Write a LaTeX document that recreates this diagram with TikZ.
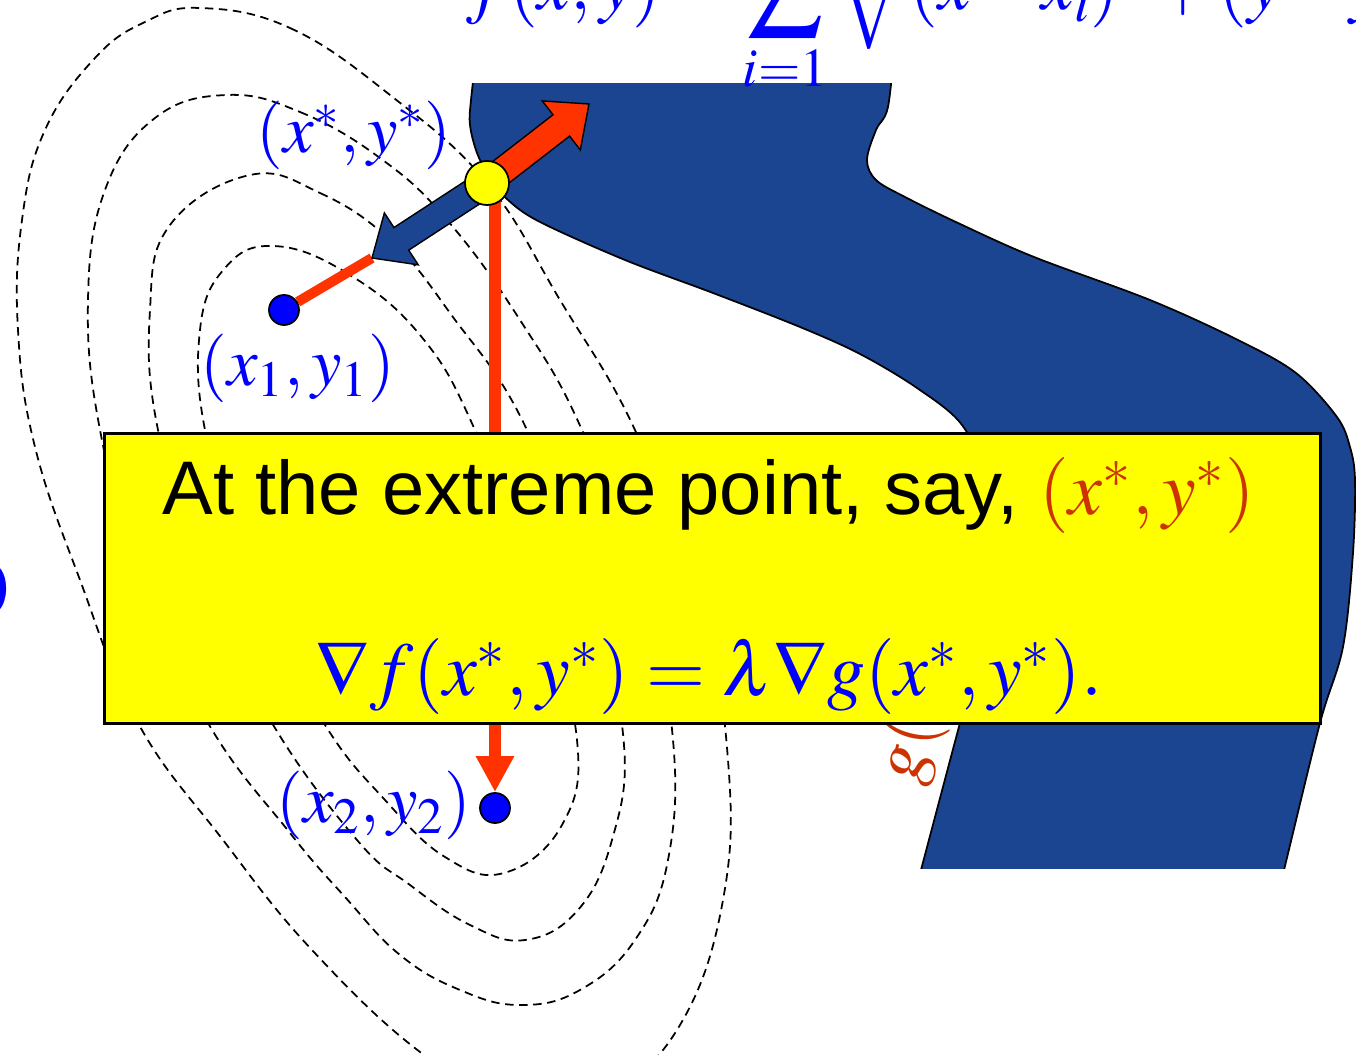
\documentclass[tikz,border=0pt]{standalone}
\usepackage{mathptmx}
\usepackage[no-math]{fontspec}
\setmainfont{Liberation Serif}
\setsansfont{Liberation Sans}
\usepackage{xcolor}
\usepackage{tikz}
\usetikzlibrary{arrows.meta,calc,backgrounds}
\definecolor{bandblue}{HTML}{1B4590}
\definecolor{arrowred}{HTML}{FF3300}
\definecolor{pointred}{HTML}{CC3300}
\definecolor{labelblue}{HTML}{0000FF}
\definecolor{noteyellow}{HTML}{FFFF00}
\tikzset{
  contour/.style={black,line width=0.5pt,dash pattern=on 2.4pt off 1.6pt},
  band/.style={fill=bandblue,draw=black,line width=0.5pt},
  dotyellow/.style={circle,draw=black,fill=noteyellow,line width=0.5pt,
                    minimum size=0.44cm,inner sep=0pt},
  dotblue/.style={circle,draw=black,fill=labelblue,line width=0.5pt,
                  minimum size=0.30cm,inner sep=0pt},
  ptlabel/.style={text=labelblue,font=\fontsize{19.5}{22}\selectfont,
                  inner sep=0pt,anchor=base},
  redline/.style={draw=arrowred,line width=0.1cm},
  notebox/.style={draw=black,fill=noteyellow,line width=0.9pt,
                  minimum width=12.15cm,minimum height=2.9cm,inner sep=0pt},
}
% fat outlined arrow: #1 tail, #2 tip, #3 fill
\newcommand{\fatarrow}[3]{%
  \coordinate (fa-base) at ($(#2)!0.35cm!(#1)$);
  \filldraw[fill=#3,draw=black,line width=0.4pt,line join=miter]
    ($(#1)!0.135cm!90:(#2)$) -- ($(fa-base)!0.135cm!90:(#2)$)
    -- ($(fa-base)!0.31cm!90:(#2)$) -- (#2)
    -- ($(fa-base)!0.31cm!-90:(#2)$) -- ($(fa-base)!0.135cm!-90:(#2)$)
    -- ($(#1)!0.135cm!-90:(#2)$) -- cycle;
}

\begin{document}
\begin{tikzpicture}[x=0.01cm,y=-0.01cm]
  \useasboundingbox (0,0) rectangle (1356,1055);
  \clip (0,0) rectangle (1356,1055);

  % points
  \node[dotyellow] (xstar) at (487,183) {};
  \node[dotblue] (pone) at (284,310) {};
  \node[dotblue] (ptwo) at (495,808) {};
  \coordinate (gtip) at (372,258);
  \coordinate (ftip) at (589,104);

  % labels
  \node[ptlabel] (lstar) at (354,153) {$(x^*, y^*)$};
  \node[ptlabel] (lone) at (298,386) {$(x_1, y_1)$};
  \node[ptlabel] (ltwo) at (374,823) {$(x_2, y_2)$};
  \node[text=pointred,font=\fontsize{21}{25}\selectfont,inner sep=0pt,
        anchor=base west,rotate=76] (lcon) at (917,786) {$g(x,y)$};
  \node[text=labelblue,font=\fontsize{21}{25}\selectfont,inner sep=0pt,
        anchor=base east] (lzero) at (9,614) {$0$};

  % note box
  \node[notebox,anchor=north west] (box) at (103,432) {};
  \node[anchor=base,inner sep=0pt,font=\sffamily\fontsize{21.6}{26}\selectfont]
    (boxtop) at (709,515)
    {At the extreme point, say, \textcolor{pointred}{$(x^*, y^*)$}};
  \node[anchor=base,inner sep=0pt,text=labelblue,font=\fontsize{21.6}{26}\selectfont]
    (boxeq) at (709,696)
    {$\nabla f(x^*, y^*) = \lambda\nabla g(x^*, y^*).$};

  % objective (cut at the top)
  \node[anchor=base west,inner sep=0pt,text=labelblue,
        font=\fontsize{21}{25}\selectfont] (objfun) at (466,10)
    {\medmuskip=1.5mu\thickmuskip=3mu
     $\displaystyle f(x,y)=\sum_{i=1}^{n}\sqrt{(x-x_i)^2+(y-y_i)^2}$};

  \begin{scope}[on background layer]
    \clip (0,0) rectangle (1356,1055);
    % level curves of f
    \draw[contour] plot[smooth cycle,tension=0.7] coordinates {
      (273,246) (345,272) (420,335) (475,430) (540,600) (577,740)
      (562,825) (504,873) (445,857) (385,800) (325,725) (255,595)
      (207,440) (200,330) (225,268)};
    \draw[contour] plot[smooth cycle,tension=0.7] coordinates {
      (250,175) (320,193) (390,240) (450,313) (527,430) (595,620)
      (624,745) (612,840) (578,910) (525,940) (470,925) (410,885)
      (357,840) (272,723) (205,585) (158,430) (150,310) (170,225)};
    \draw[contour] plot[smooth cycle,tension=0.7] coordinates {
      (227,95) (300,112) (380,158) (447,220) (520,320) (582,430)
      (645,600) (673,740) (668,860) (635,940) (580,990) (520,1005)
      (460,990) (400,955) (345,897) (290,833) (208,723) (140,575)
      (100,430) (88,300) (105,190) (155,118)};
    \draw[contour] plot[smooth cycle,tension=0.7] coordinates {
      (200,8) (290,28) (390,95) (487,183) (560,300) (635,430)
      (700,600) (728,760) (723,900) (680,1025) (610,1090) (520,1105)
      (424,1055) (312,950) (223,840) (138,723) (80,580) (35,447)
      (18,330) (22,220) (45,130) (95,58) (145,22)};

    % constraint band
    \begin{scope}
      \clip (0,84) rectangle (1356,869);
      \draw[band] plot[smooth,tension=0.55] coordinates {
        (478,40) (471,100) (470,125) (477,153) (490,178) (508,200)
        (540,222) (625,260) (713,293) (800,327) (860,354) (917,388)
        (962,425) (985,480) (988,580) (972,680) (960,723) (921,870)
        (912,905)}
        -- plot[smooth,tension=0.55] coordinates {
        (1275,905) (1284,870) (1320,723) (1343,647) (1353,553)
        (1355,480) (1350,447) (1337,417) (1296,373) (1238,340)
        (1150,300) (1034,257) (958,223) (905,197) (876,180) (867,160)
        (876,130) (888,107) (895,40)} -- cycle;
    \end{scope}

    % connectors
    \draw[redline] (pone) -- (gtip);
    \draw[draw=arrowred,line width=0.11cm,
          -{Triangle[length=0.36cm,width=0.36cm]}]
      (xstar -| ptwo) -- (ptwo.north);
    \fatarrow{xstar}{gtip}{bandblue}
    \fatarrow{xstar}{ftip}{arrowred}
  \end{scope}
\end{tikzpicture}
\end{document}
